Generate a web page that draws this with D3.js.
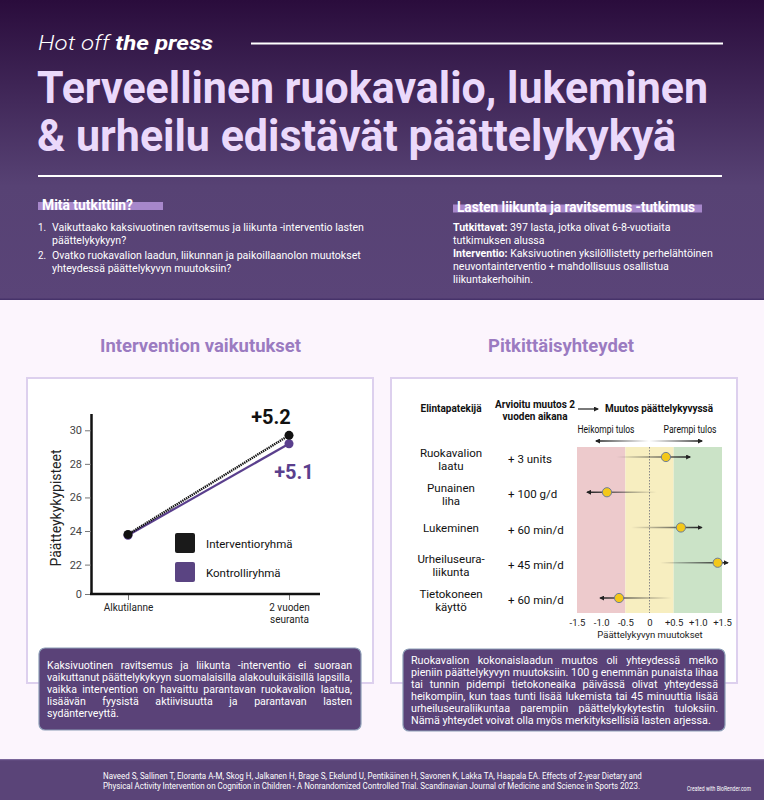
<!DOCTYPE html>
<html>
<head>
<meta charset="utf-8">
<script src="https://cdn.jsdelivr.net/npm/d3@7"></script>
<style>
  body { margin: 0; background: #fcf5fd; }
  svg { display: block; font-family: Roboto, 'Noto Sans', sans-serif; }
</style>
</head>
<body>
<svg id="chart" width="764" height="800"></svg>
<script>
// ---- intervention chart
const timepoints = ['Alkutilanne', '2 vuoden seuranta'];
const groups = ['Interventioryhmä', 'Kontrolliryhmä'];
const interventionScores = [23.8, 29.7];
const controlScores = [23.75, 29.2];
const changeLabels = ['+5.2', '+5.1'];
const scoreTicks = [0, 22, 24, 26, 28, 30];

// ---- longitudinal associations
const factors = ['Ruokavalion laatu', 'Punainen liha', 'Lukeminen', 'Urheiluseura-liikunta', 'Tietokoneen käyttö'];
const factorLines = [['Ruokavalion', 'laatu'], ['Punainen', 'liha'], ['Lukeminen'], ['Urheiluseura-', 'liikunta'], ['Tietokoneen', 'käyttö']];
const amounts = ['+ 3 units', '+ 100 g/d', '+ 60 min/d', '+ 45 min/d', '+ 60 min/d'];
const estimates = [0.34, -0.88, 0.65, 1.41, -0.63];
const ciLower = [-0.69, -1.29, -0.38, 0.22, -1.02];
const ciUpper = [0.84, 0.15, 1.08, 1.62, 0.46];
const changeTicks = [-1.5, -1, -0.5, 0, 0.5, 1, 1.5];
const zoneBreaks = [-1.5, -0.5, 0.5, 1.5];
const zoneColors = ['#edcacc', '#f7eec0', '#cbe3c7'];

// ---- texts
const studyQuestions = [
  ['Vaikuttaako kaksivuotinen ravitsemus ja liikunta -interventio lasten', 'päättelykykyyn?'],
  ['Ovatko ruokavalion laadun, liikunnan ja paikoillaanolon muutokset', 'yhteydessä päättelykyvyn muutoksiin?']
];
const studyInfo = [
  [['Tutkittavat:', ' 397 lasta, jotka olivat 6-8-vuotiaita'], ['', 'tutkimuksen alussa']],
  [['Interventio:', ' Kaksivuotinen yksilöllistetty perhelähtöinen'], ['', 'neuvontainterventio + mahdollisuus osallistua'], ['', 'liikuntakerhoihin.']]
];
const leftSummary = [
  'Kaksivuotinen ravitsemus ja liikunta -interventio ei suoraan',
  'vaikuttanut päättelykykyyn suomalaisilla alakouluikäisillä lapsilla,',
  'vaikka intervention on havaittu parantavan ruokavalion laatua,',
  'lisäävän fyysistä aktiivisuutta ja parantavan lasten',
  'sydänterveyttä.'
];
const rightSummary = [
  'Ruokavalion kokonaislaadun muutos oli yhteydessä melko',
  'pieniin päättelykyvyn muutoksiin. 100 g enemmän punaista lihaa',
  'tai tunnin pidempi tietokoneaika päivässä olivat yhteydessä',
  'heikompiin, kun taas tunti lisää lukemista tai 45 minuuttia lisää',
  'urheiluseuraliikuntaa parempiin päättelykykytestin tuloksiin.',
  'Nämä yhteydet voivat olla myös merkityksellisiä lasten arjessa.'
];
const citation = [
  'Naveed S, Sallinen T, Eloranta A-M, Skog H, Jalkanen H, Brage S, Ekelund U, Pentikäinen H, Savonen K, Lakka TA, Haapala EA. Effects of 2-year Dietary and',
  'Physical Activity Intervention on Cognition in Children - A Nonrandomized Controlled Trial. Scandinavian Journal of Medicine and Science in Sports 2023.'
];

const svg = d3.select('#chart');
const defs = svg.append('defs');

// squeeze a block of lines horizontally so its widest line gets the given width
function squeeze(g, x, width) {
  let max = 0;
  g.selectAll('text').each(function() { max = Math.max(max, this.getComputedTextLength()); });
  const k = width / max;
  g.attr('transform', `translate(${x},0) scale(${k},1)`);
  return k;
}

// justify lines (all but the last) to the given width
function justified(parent, lines, x, y0, lh, width, size) {
  const g = parent.append('g');
  const t = g.selectAll('text').data(lines).enter().append('text')
    .attr('x', 0).attr('y', (d, i) => y0 + i * lh)
    .attr('font-size', size).attr('fill', '#fff')
    .text(d => d);
  const k = squeeze(g, x, width);
  t.each(function(d, i) {
    if (i === lines.length - 1) return;
    const spaces = d.split(' ').length - 1;
    const extra = (width / k - this.getComputedTextLength()) / spaces;
    d3.select(this).attr('word-spacing', extra);
  });
}

// ---------- backgrounds
const hdr = defs.append('linearGradient').attr('id', 'hdr')
  .attr('x1', 0).attr('y1', 0).attr('x2', 0).attr('y2', 1);
hdr.append('stop').attr('offset', 0).attr('stop-color', '#2a0c3c');
hdr.append('stop').attr('offset', 0.62).attr('stop-color', '#574274');
hdr.append('stop').attr('offset', 1).attr('stop-color', '#5a4478');

svg.append('rect').attr('width', 764).attr('height', 800).attr('fill', '#fcf5fd');
svg.append('rect').attr('width', 764).attr('height', 300).attr('fill', 'url(#hdr)');
svg.append('rect').attr('y', 298.5).attr('width', 764).attr('height', 1.5).attr('fill', '#46326a');
svg.append('rect').attr('y', 759).attr('width', 764).attr('height', 41).attr('fill', '#5a4478');
svg.append('rect').attr('y', 759).attr('width', 764).attr('height', 1.2).attr('fill', '#7a669a');

// ---------- header
svg.append('text').attr('x', 38).attr('y', 50)
  .attr('font-size', 21).attr('font-style', 'italic').attr('fill', '#fff')
  .attr('textLength', 175).attr('lengthAdjust', 'spacingAndGlyphs')
  .call(t => {
    t.append('tspan').attr('font-weight', 300).text('Hot off ');
    t.append('tspan').attr('font-weight', 700).text('the press');
  });
svg.append('line').attr('x1', 251).attr('x2', 723).attr('y1', 43.5).attr('y2', 43.5)
  .attr('stroke', '#fff').attr('stroke-width', 2);

svg.selectAll('.title').data(['Terveellinen ruokavalio, lukeminen', '& urheilu edistävät päättelykykyä'])
  .enter().append('text').attr('class', 'title')
  .attr('x', 37).attr('y', (d, i) => 103 + i * 48)
  .attr('font-size', 44).attr('font-weight', 700).attr('fill', '#ebd9fb')
  .attr('textLength', (d, i) => i === 0 ? 671 : 639).attr('lengthAdjust', 'spacingAndGlyphs')
  .text(d => d);
svg.append('line').attr('x1', 38).attr('x2', 722).attr('y1', 176).attr('y2', 176)
  .attr('stroke', '#fff').attr('stroke-width', 2);

// sub-headings with highlight
svg.append('rect').attr('x', 38).attr('y', 202).attr('width', 125).attr('height', 8).attr('fill', '#a787cb');
svg.append('rect').attr('x', 453).attr('y', 204.5).attr('width', 249).attr('height', 8).attr('fill', '#a787cb');
svg.append('text').attr('x', 42).attr('y', 210).attr('font-size', 14).attr('font-weight', 700).attr('fill', '#fff')
  .attr('textLength', 91).attr('lengthAdjust', 'spacingAndGlyphs').text('Mitä tutkittiin?');
svg.append('text').attr('x', 457).attr('y', 212).attr('font-size', 14).attr('font-weight', 700).attr('fill', '#fff')
  .attr('textLength', 238).attr('lengthAdjust', 'spacingAndGlyphs').text('Lasten liikunta ja ravitsemus -tutkimus');

// question list
const qNums = svg.append('g');
const qg = svg.append('g');
const qBase = [231, 259];
studyQuestions.forEach((lines, i) => {
  qNums.append('text').attr('x', 38).attr('y', qBase[i]).attr('font-size', 11.5).attr('fill', '#fff')
    .attr('transform', `translate(38,0) scale(0.85,1) translate(-38,0)`).text(`${i + 1}.`);
  lines.forEach((l, j) => qg.append('text').attr('x', 0).attr('y', qBase[i] + j * 13)
    .attr('font-size', 11.5).attr('fill', '#fff').text(l));
});
squeeze(qg, 52, 312);

// study info
const ig = svg.append('g');
const iBase = [231, 257];
studyInfo.forEach((lines, i) => {
  lines.forEach((parts, j) => {
    const t = ig.append('text').attr('x', 0).attr('y', iBase[i] + j * 13)
      .attr('font-size', 11.5).attr('fill', '#fff');
    if (parts[0]) t.append('tspan').attr('font-weight', 700).text(parts[0]);
    t.append('tspan').text(parts[1]);
  });
});
squeeze(ig, 453, 260);

// ---------- section titles
svg.append('text').attr('x', 100).attr('y', 352).attr('font-size', 19).attr('font-weight', 700)
  .attr('fill', '#9b7bc1').attr('textLength', 201).attr('lengthAdjust', 'spacingAndGlyphs')
  .text('Intervention vaikutukset');
svg.append('text').attr('x', 488).attr('y', 352).attr('font-size', 19).attr('font-weight', 700)
  .attr('fill', '#9b7bc1').attr('textLength', 146).attr('lengthAdjust', 'spacingAndGlyphs')
  .text('Pitkittäisyhteydet');

// cards
[27, 391].forEach(cx => svg.append('rect').attr('x', cx).attr('y', 378).attr('width', 346).attr('height', 305)
  .attr('fill', '#fff').attr('stroke', '#ddd0ee').attr('stroke-width', 2));

// ---------- left chart
const x = d3.scalePoint().domain(timepoints).range([128, 289]);
const y = d3.scaleLinear().domain([0, 22, 31]).range([594, 564.6, 413.5]);

const yAxis = svg.append('g').attr('transform', 'translate(91,0)')
  .call(d3.axisLeft(y).tickValues(scoreTicks).tickSize(6).tickSizeOuter(0));
yAxis.select('.domain').attr('stroke', '#111').attr('stroke-width', 2.5);
yAxis.selectAll('.tick line').attr('stroke', '#777');
yAxis.selectAll('.tick text').attr('font-size', 11).attr('fill', '#444').attr('font-family', 'Roboto');

const xAxis = svg.append('g').attr('transform', 'translate(0,594)')
  .call(d3.axisBottom(x).tickSize(6));
xAxis.select('.domain').remove();
xAxis.selectAll('.tick line').attr('stroke', '#777');
xAxis.selectAll('.tick text').text(null).attr('font-size', 10).attr('fill', '#222')
  .attr('font-family', 'Roboto').attr('y', 0).attr('dy', 0)
  .each(function(d) {
    const words = d === timepoints[1] ? ['2 vuoden', 'seuranta'] : [d];
    words.forEach((w, i) => d3.select(this).append('tspan').attr('x', 0).attr('y', 17 + i * 12).text(w));
  });
svg.append('line').attr('x1', 90).attr('x2', 320).attr('y1', 594).attr('y2', 594)
  .attr('stroke', '#111').attr('stroke-width', 2.5);

svg.append('text').attr('transform', 'rotate(-90)').attr('x', -508).attr('y', 61)
  .attr('text-anchor', 'middle').attr('font-size', 14).attr('fill', '#222')
  .text('Päätteykykypisteet');

const line = d3.line().x((d, i) => x(timepoints[i])).y(d => y(d));
svg.append('path').datum(controlScores).attr('d', line)
  .attr('fill', 'none').attr('stroke', '#5a3f8d').attr('stroke-width', 2.2);
svg.append('path').datum(interventionScores).attr('d', line)
  .attr('fill', 'none').attr('stroke', '#111').attr('stroke-width', 2.4).attr('stroke-dasharray', '1.4 0.8');

svg.selectAll('.cdot').data(controlScores).enter().append('circle')
  .attr('cx', (d, i) => x(timepoints[i])).attr('cy', d => y(d)).attr('r', 4.5).attr('fill', '#5a3f8d');
svg.selectAll('.idot').data(interventionScores).enter().append('circle')
  .attr('cx', (d, i) => x(timepoints[i])).attr('cy', d => y(d)).attr('r', 4.5).attr('fill', '#111');

svg.append('text').attr('x', x(timepoints[1]) - 18).attr('y', y(interventionScores[1]) - 11)
  .attr('text-anchor', 'middle').attr('font-size', 20).attr('font-weight', 700).attr('fill', '#111')
  .text(changeLabels[0]);
svg.append('text').attr('x', x(timepoints[1]) + 5).attr('y', y(controlScores[1]) + 35)
  .attr('text-anchor', 'middle').attr('font-size', 20).attr('font-weight', 700).attr('fill', '#5a3f8d')
  .text(changeLabels[1]);

const legColors = ['#1a1a1a', '#5a4482'];
const leg = svg.selectAll('.leg').data(groups).enter().append('g')
  .attr('transform', (d, i) => `translate(175,${533 + i * 29})`);
leg.append('rect').attr('width', 20).attr('height', 20).attr('rx', 2).attr('fill', (d, i) => legColors[i]);
leg.append('text').attr('x', 31).attr('y', 15).attr('font-size', 11.5).attr('fill', '#111').text(d => d);

// ---------- right chart (forest plot)
const fx = d3.scaleLinear().domain([-1.5, 1.5]).range([577, 722]);
const fy = d3.scalePoint().domain(factors).range([457, 598]);
const pTop = 447, pBottom = 613;

svg.selectAll('.zone').data(d3.pairs(zoneBreaks)).enter().append('rect')
  .attr('x', d => fx(d[0])).attr('width', d => fx(d[1]) - fx(d[0]))
  .attr('y', pTop).attr('height', pBottom - pTop).attr('fill', (d, i) => zoneColors[i]);
svg.append('line').attr('x1', fx(0)).attr('x2', fx(0)).attr('y1', pTop).attr('y2', pBottom)
  .attr('stroke', '#888').attr('stroke-width', 1).attr('stroke-dasharray', '1.5 1.5');

// headers
const hdrText = (tx, ty, s, bold, size, w) => svg.append('text').attr('x', tx).attr('y', ty)
  .attr('text-anchor', 'middle').attr('font-size', size).attr('font-weight', bold ? 700 : 400)
  .attr('fill', '#111').attr('textLength', w).attr('lengthAdjust', 'spacingAndGlyphs').text(s);
hdrText(451, 412, 'Elintapatekijä', true, 10.5, 61);
hdrText(535, 408, 'Arvioitu muutos 2', true, 10.5, 80);
hdrText(535, 419.5, 'vuoden aikana', true, 10.5, 65);
hdrText(659, 412, 'Muutos päättelykyvyssä', true, 10.5, 108);
hdrText(606, 432.5, 'Heikompi tulos', false, 10, 57);
hdrText(690, 432.5, 'Parempi tulos', false, 10, 53);

defs.append('marker').attr('id', 'tip').attr('viewBox', '0 0 10 10').attr('refX', 8).attr('refY', 5)
  .attr('markerWidth', 5).attr('markerHeight', 5).attr('markerUnits', 'userSpaceOnUse')
  .attr('orient', 'auto-start-reverse')
  .append('path').attr('d', 'M0,0L10,5L0,10z').attr('fill', '#222');
svg.append('line').attr('x1', 578).attr('x2', 598).attr('y1', 409).attr('y2', 409)
  .attr('stroke', '#222').attr('stroke-width', 1.2).attr('marker-end', 'url(#tip)');

const dbl = defs.append('linearGradient').attr('id', 'dbl').attr('gradientUnits', 'userSpaceOnUse')
  .attr('x1', 595).attr('x2', 703).attr('y1', 0).attr('y2', 0);
dbl.append('stop').attr('offset', 0).attr('stop-color', '#111');
dbl.append('stop').attr('offset', 0.5).attr('stop-color', '#fff');
dbl.append('stop').attr('offset', 1).attr('stop-color', '#111');
svg.append('line').attr('x1', 596).attr('x2', 702).attr('y1', 441).attr('y2', 441)
  .attr('stroke', 'url(#dbl)').attr('stroke-width', 1.5)
  .attr('marker-start', 'url(#tip)').attr('marker-end', 'url(#tip)');

// row labels
factors.forEach((f, i) => {
  const n = factorLines[i].length;
  factorLines[i].forEach((l, j) => svg.append('text').attr('x', 451)
    .attr('y', fy(f) + 4.5 + (n === 1 ? 0 : (j === 0 ? -4.5 : 8.5)))
    .attr('text-anchor', 'middle').attr('font-size', 11.5).attr('fill', '#111').text(l));
  svg.append('text').attr('x', 508).attr('y', fy(f) + 6)
    .attr('font-size', 11.5).attr('fill', '#111').text(amounts[i]);
});

// confidence arrows
factors.forEach((f, i) => {
  const head = estimates[i] >= 0 ? ciUpper[i] : ciLower[i];
  const tail = estimates[i] >= 0 ? ciLower[i] : ciUpper[i];
  const gr = defs.append('linearGradient').attr('id', 'ci' + i).attr('gradientUnits', 'userSpaceOnUse')
    .attr('x1', fx(tail)).attr('x2', fx(head)).attr('y1', 0).attr('y2', 0);
  gr.append('stop').attr('offset', 0).attr('stop-color', '#333').attr('stop-opacity', 0);
  gr.append('stop').attr('offset', 0.55).attr('stop-color', '#333').attr('stop-opacity', 0.6);
  gr.append('stop').attr('offset', 1).attr('stop-color', '#222').attr('stop-opacity', 1);
  svg.append('line').attr('x1', fx(tail)).attr('x2', fx(head)).attr('y1', fy(f)).attr('y2', fy(f))
    .attr('stroke', `url(#ci${i})`).attr('stroke-width', 1.3).attr('marker-end', 'url(#tip)');
});
svg.selectAll('.est').data(estimates).enter().append('circle')
  .attr('cx', d => fx(d)).attr('cy', (d, i) => fy(factors[i])).attr('r', 4.6)
  .attr('fill', '#f3c81a').attr('stroke', '#6d7d96').attr('stroke-width', 1);

const fAxis = svg.append('g').attr('transform', `translate(0,${pBottom})`)
  .call(d3.axisBottom(fx).tickValues(changeTicks).tickSize(0)
    .tickFormat(d => d === 0 ? '0' : (d > 0 ? '+' : '') + d.toFixed(1)));
fAxis.select('.domain').remove();
fAxis.selectAll('text').attr('font-size', 9.5).attr('fill', '#222').attr('font-family', 'Roboto').attr('y', 6.5);
svg.append('text').attr('x', 650).attr('y', 638).attr('text-anchor', 'middle')
  .attr('font-size', 9.5).attr('fill', '#222').text('Päättelykyvyn muutokset');

// ---------- summary boxes
[[39, 648], [403, 649]].forEach(([bx, by]) => svg.append('rect').attr('x', bx).attr('y', by)
  .attr('width', 322).attr('height', 82).attr('rx', 6)
  .attr('fill', '#5a4278').attr('stroke', '#8c9db6').attr('stroke-width', 1.2));
justified(svg, leftSummary, 47, 669, 12, 305, 11);
justified(svg, rightSummary, 411, 664, 12, 307, 11);

// ---------- footer
const cg = svg.append('g');
cg.selectAll('text').data(citation).enter().append('text')
  .attr('x', 0).attr('y', (d, i) => 779 + i * 10).attr('font-size', 9.5).attr('fill', '#fff')
  .text(d => d);
squeeze(cg, 103, 540);
const credit = svg.append('g');
credit.append('text').attr('x', 0).attr('y', 791).attr('font-size', 6.5).attr('fill', '#fff')
  .text('Created with BioRender.com');
squeeze(credit, 687, 64);
</script>
</body>
</html>
